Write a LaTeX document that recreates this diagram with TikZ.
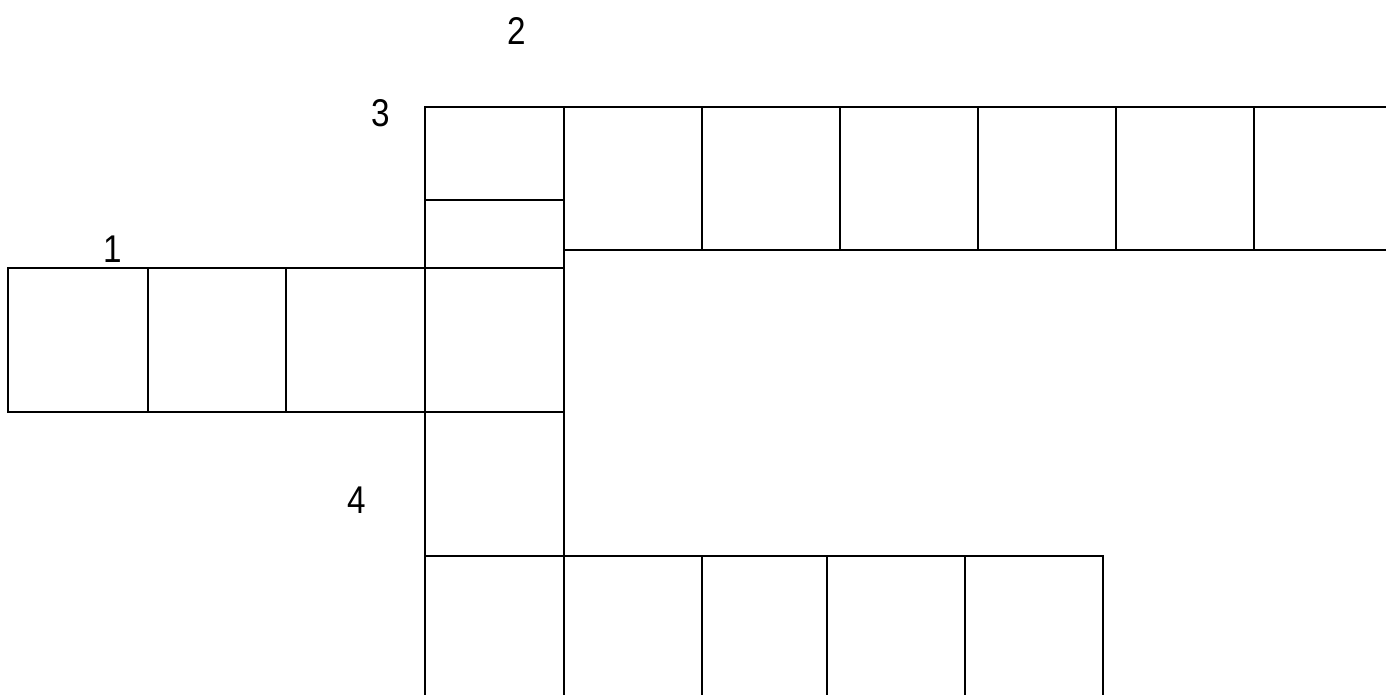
\documentclass[tikz,border=0pt]{standalone}
\usepackage{fontspec}
\setmainfont{Liberation Sans}
\usetikzlibrary{positioning}
\definecolor{gridline}{HTML}{000000}

\begin{document}
\begin{tikzpicture}[x=0.75pt,y=-0.75pt,
  cell/.style={draw=gridline,line width=1.5pt},
  num/.style={inner sep=0pt,font=\fontsize{29}{32}\selectfont,xscale=0.86}]
\useasboundingbox (0,0) rectangle (1386,695);
\clip (0,0) rectangle (1386,695);
% across 3
\draw[cell] (564,107) rectangle (702,250);
\draw[cell] (702,107) rectangle (840,250);
\draw[cell] (840,107) rectangle (978,250);
\draw[cell] (978,107) rectangle (1116,250);
\draw[cell] (1116,107) rectangle (1254,250);
\draw[cell] (1254,107) rectangle (1400,250);
% down 2
\draw[cell] (425,107) rectangle (564,200);
\draw[cell] (425,200) rectangle (564,268);
\draw[cell] (425,268) rectangle (564,412);
\draw[cell] (425,412) rectangle (564,556);
\draw[cell] (425,556) rectangle (564,710);
% across 1
\draw[cell] (8,268) rectangle (148,412);
\draw[cell] (148,268) rectangle (286,412);
\draw[cell] (286,268) rectangle (425,412);
% across 4
\draw[cell] (564,556) rectangle (702,710);
\draw[cell] (702,556) rectangle (827,710);
\draw[cell] (827,556) rectangle (965,710);
\draw[cell] (965,556) rectangle (1103,710);
% clue numbers
\node[num] (n2) at (517,31) {2};
\node[num] (n3) at (381,113) {3};
\node[num] (n1) at (113,249) {1};
\node[num] (n4) at (357,500) {4};
\end{tikzpicture}
\end{document}
